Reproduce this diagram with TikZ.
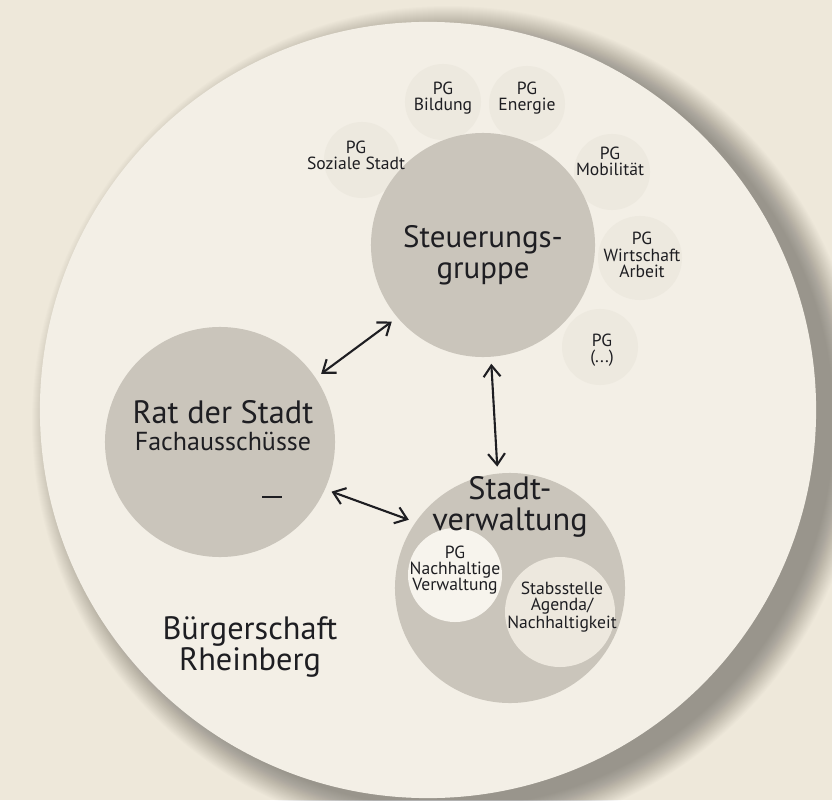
\documentclass[tikz,border=0pt]{standalone}
\usepackage{fontspec}
\setmainfont{PT Sans}
\usetikzlibrary{arrows.meta,positioning}
\definecolor{paperColor}{HTML}{EEE8DA}
\definecolor{buergerColor}{HTML}{F3EFE6}
\definecolor{kernColor}{HTML}{CAC5BB}
\definecolor{pgColor}{HTML}{EDE9DF}
\definecolor{hellColor}{HTML}{F7F4ED}
\definecolor{stabColor}{HTML}{EDE8DE}
\definecolor{inkColor}{HTML}{1E1E22}
\tikzset{
	kreis/.style={circle, fill=kernColor, inner sep=0, outer sep=5pt, minimum size=#1},
	pgkreis/.style={circle, fill=pgColor, inner sep=0, minimum size=#1},
	pgkreis/.default=1.9cm,
	gross/.style={text=inkColor, align=center, font=\fontsize{23}{22}\selectfont},
	mittel/.style={text=inkColor, align=center, font=\fontsize{18.5}{18}\selectfont},
	klein/.style={text=inkColor, align=center, font=\fontsize{12.5}{11.5}\selectfont},
	pfeil/.style={{Straight Barb[length=8pt,width=12pt]}-{Straight Barb[length=8pt,width=12pt]},
		line width=1.5pt, draw=inkColor, line join=miter}
}

\begin{document}
\begin{tikzpicture}[x=0.025cm, y=-0.025cm]
	\fill[paperColor] (0,0) rectangle (832,800);
	\useasboundingbox (0,0) rectangle (832,800);
	
	% Schatten und Buergerschaft
	\foreach \r in {386,387,...,416}
		\fill[black, opacity=0.013] (448,422) circle (\r);
	\node[circle, fill=buergerColor, inner sep=0, minimum size=19.4cm] (buergerschaft) at (428,410) {};
	
	% Projektgruppen
	\node[pgkreis] (pgbildung) at (443,102) {};
	\node[pgkreis] (pgenergie) at (527,104) {};
	\node[pgkreis] (pgsozial) at (362,160) {};
	\node[pgkreis] (pgmobil) at (612,172) {};
	\node[pgkreis=2.1cm] (pgwirtschaft) at (640,258) {};
	\node[pgkreis] (pgrest) at (600,347) {};
	
	% Kerngremien
	\node[kreis=5.6cm] (steuerung) at (483,245) {};
	\node[kreis=5.75cm] (rat) at (220,442) {};
	\node[kreis=5.75cm] (verwaltung) at (510,588) {};
	\node[circle, fill=hellColor, inner sep=0, minimum size=2.35cm] (pgnachhaltig) at (455,575) {};
	\node[circle, fill=stabColor, inner sep=0, minimum size=2.75cm] (stabsstelle) at (560,612) {};
	
	% Beschriftungen
	\node[klein] (tbildung) at (443,98) {PG\\Bildung};
	\node[klein] (tenergie) at (527,98) {PG\\Energie};
	\node[klein] (tsozial) at (356,155) {PG\\Soziale Stadt};
	\node[klein] (tmobil) at (610,161) {PG\\Mobilität};
	\node[klein] (twirtschaft) at (642,255) {PG\\Wirtschaft\\Arbeit};
	\node[klein] (trest) at (602,350) {PG\\(...)};
	
	\node[gross, font=\fontsize{22}{22}\selectfont] (tsteuerung) at (483,255) {Steuerungs-\\gruppe};
	\node[gross] (trat) at (223,412) {Rat der Stadt};
	\node[mittel] (tfach) at (223,441) {Fachausschüsse};
	\node[fill=inkColor, inner sep=0, minimum width=0.5cm, minimum height=1.3pt] (strich) at (272,497) {};
	\node[gross] (tverwaltung) at (510,507) {Stadt-\\verwaltung};
	\node[klein] (tnachhaltig) at (455,570) {PG\\Nachhaltige\\Verwaltung};
	\node[klein] (tstab) at (562,607) {Stabsstelle\\Agenda/\\Nachhaltigkeit};
	\node[gross] (tbuerger) at (250,647) {Bürgerschaft\\Rheinberg};
	
	% Verbindungen
	\draw[pfeil] (steuerung.220) -- (rat.34);
	\draw[pfeil] (steuerung.274) -- (verwaltung.96);
	\draw[pfeil] (rat.336) -- (verwaltung.146);
\end{tikzpicture}
\end{document}
